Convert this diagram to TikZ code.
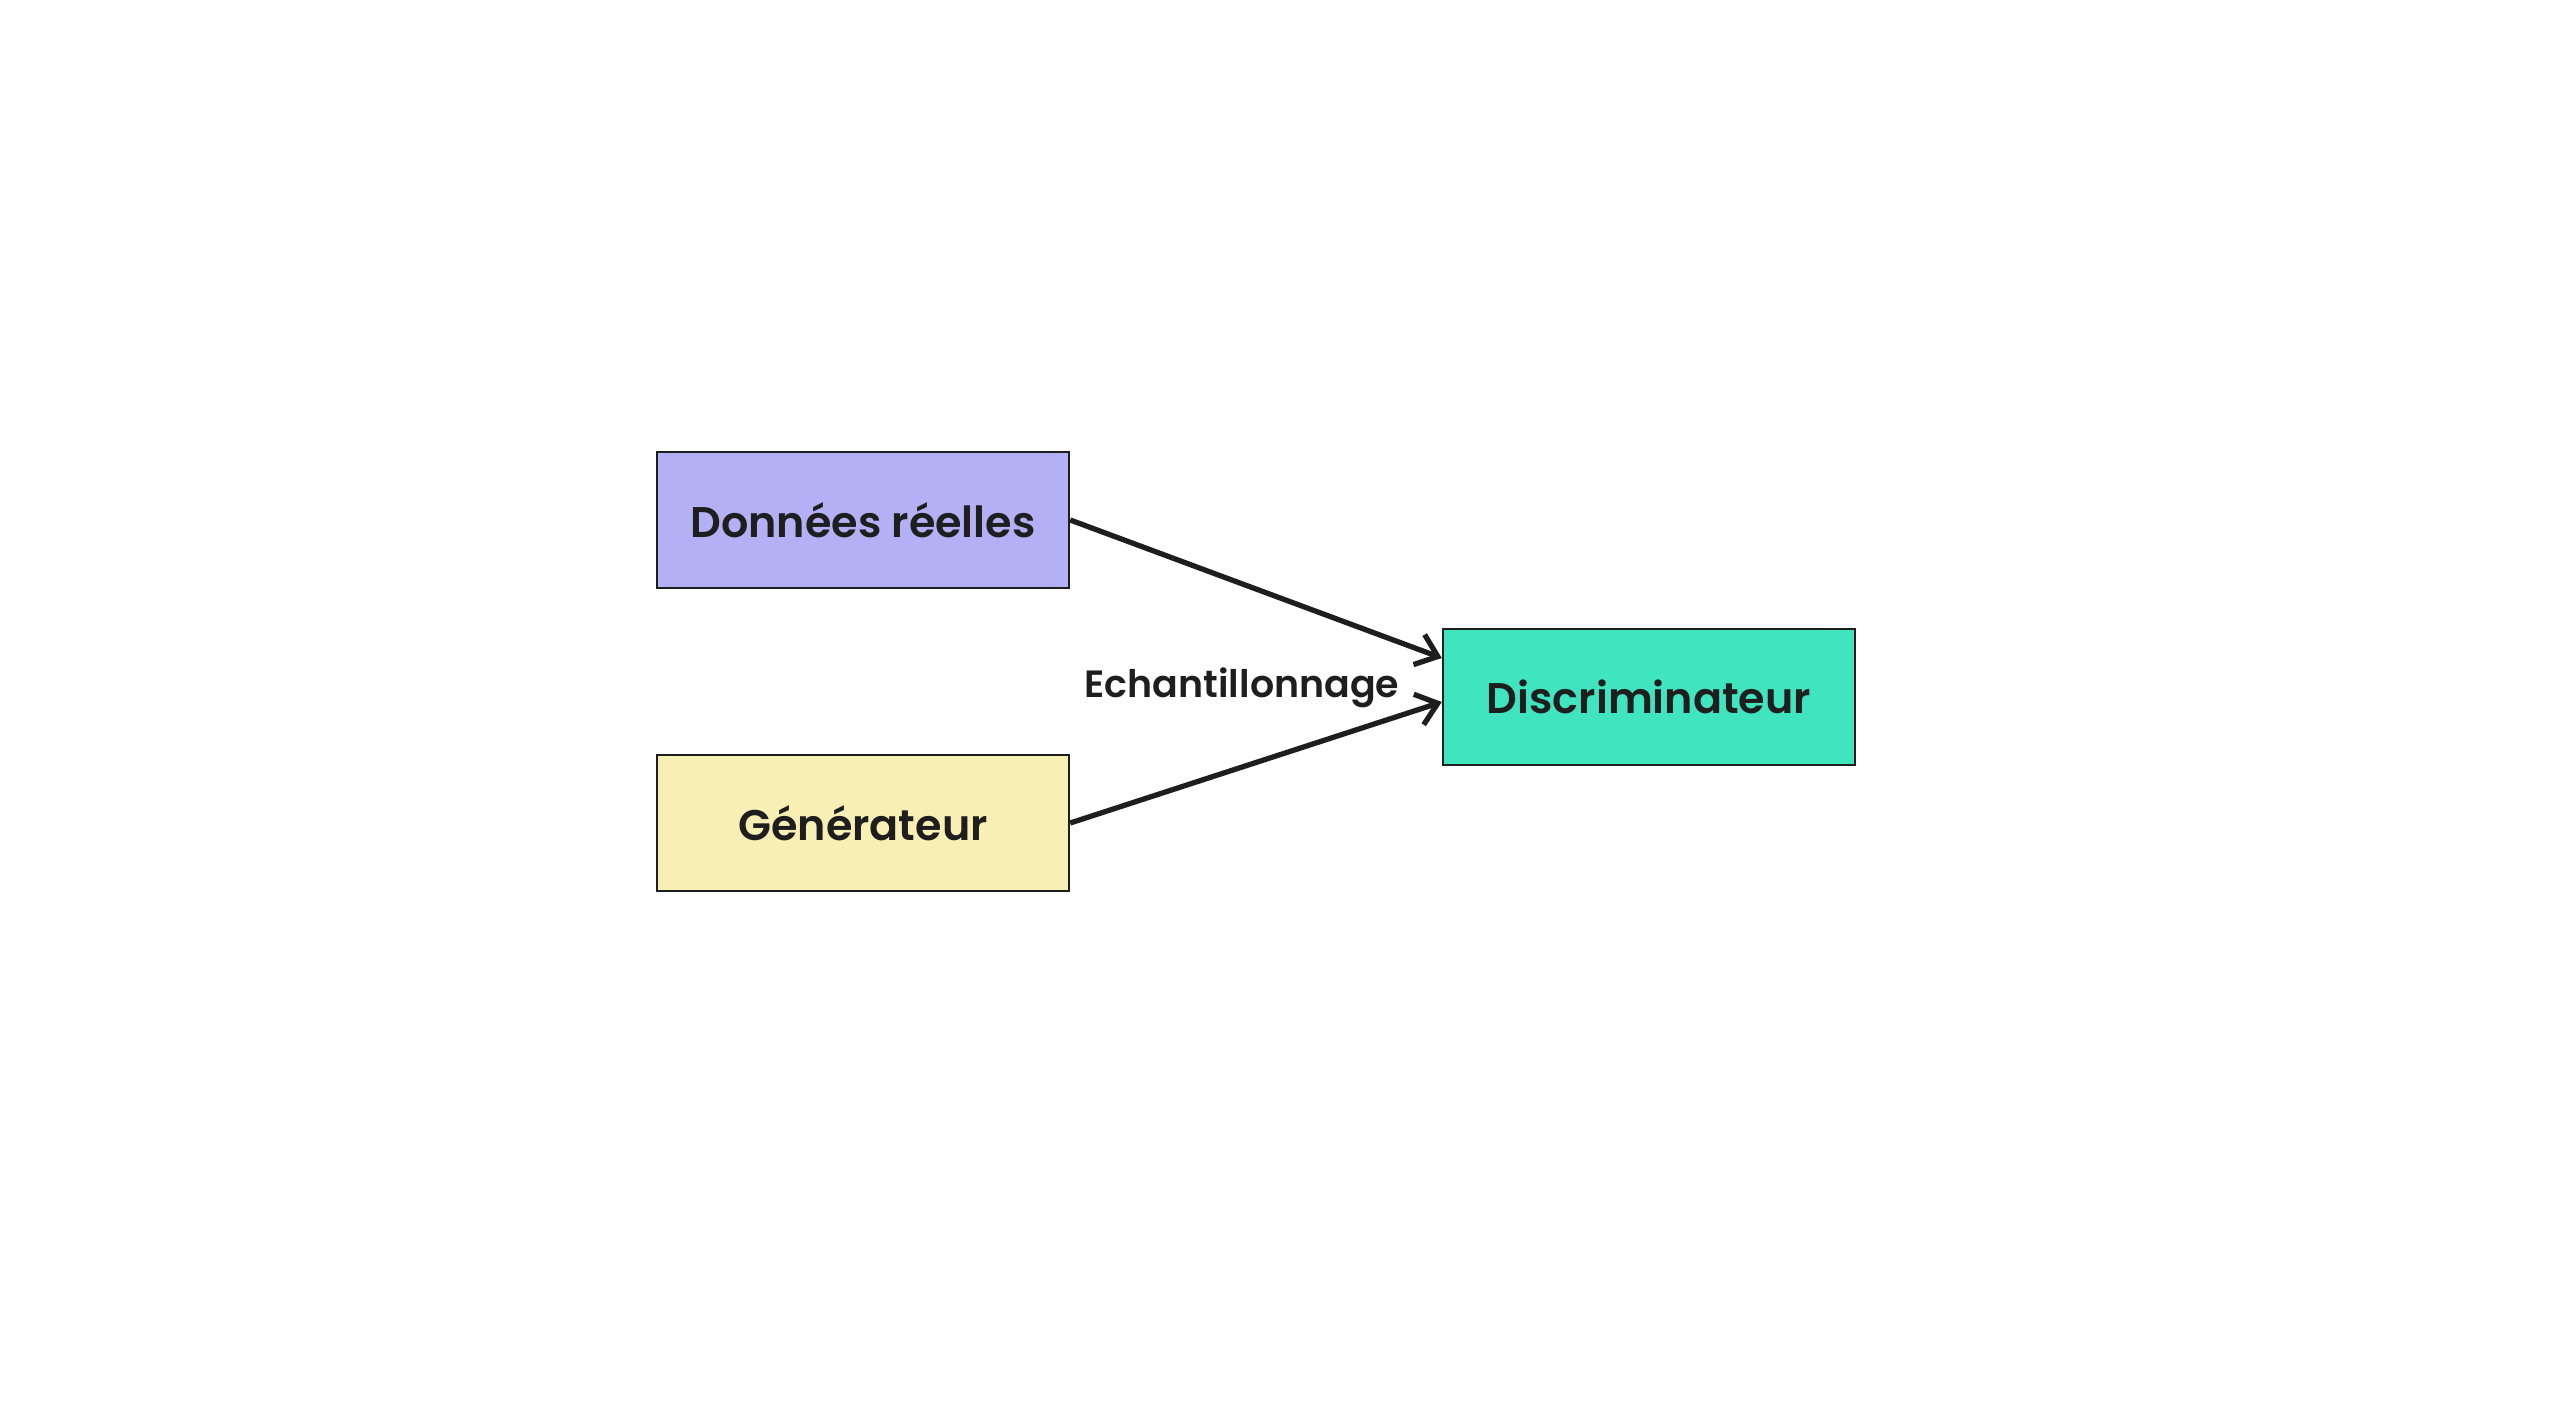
\documentclass[tikz,border=0pt]{standalone}
\usepackage{fontspec}
\setmainfont{Poppins}[BoldFont={Poppins SemiBold}]
\usepackage{tikz}
\usetikzlibrary{calc,arrows.meta}
\definecolor{reel}{HTML}{B4B0F5}
\definecolor{gener}{HTML}{F8EFB5}
\definecolor{discr}{HTML}{40E5BF}
\definecolor{encre}{HTML}{1E1E1E}
\tikzset{
boite/.style={draw=encre, line width=0.7pt, minimum width=4.12cm, minimum height=1.36cm, text=encre, font=\fontsize{12.2}{14}\selectfont\bfseries},
fleche/.style={draw=encre, line width=1.5pt, -{Straight Barb[length=2mm,width=3.2mm]}}
}
\begin{document}
\begin{tikzpicture}
\useasboundingbox (0,0) rectangle (25.6,14.05);
\node[boite, fill=reel] (don) at (8.63,8.85) {Données réelles};
\node[boite, fill=gener] (gen) at (8.63,5.82) {Générateur};
\node[boite, fill=discr] (disc) at (16.49,7.08) {Discriminateur};
\node[text=encre, font=\fontsize{10.8}{13}\selectfont\bfseries] (ech) at (12.42,7.17) {Echantillonnage};
% les deux fleches vers le discriminateur
\draw[fleche] (don.east) -- ([yshift=3.9mm]disc.west);
\draw[fleche] (gen.east) -- ([yshift=-0.5mm]disc.west);
\end{tikzpicture}
\end{document}
